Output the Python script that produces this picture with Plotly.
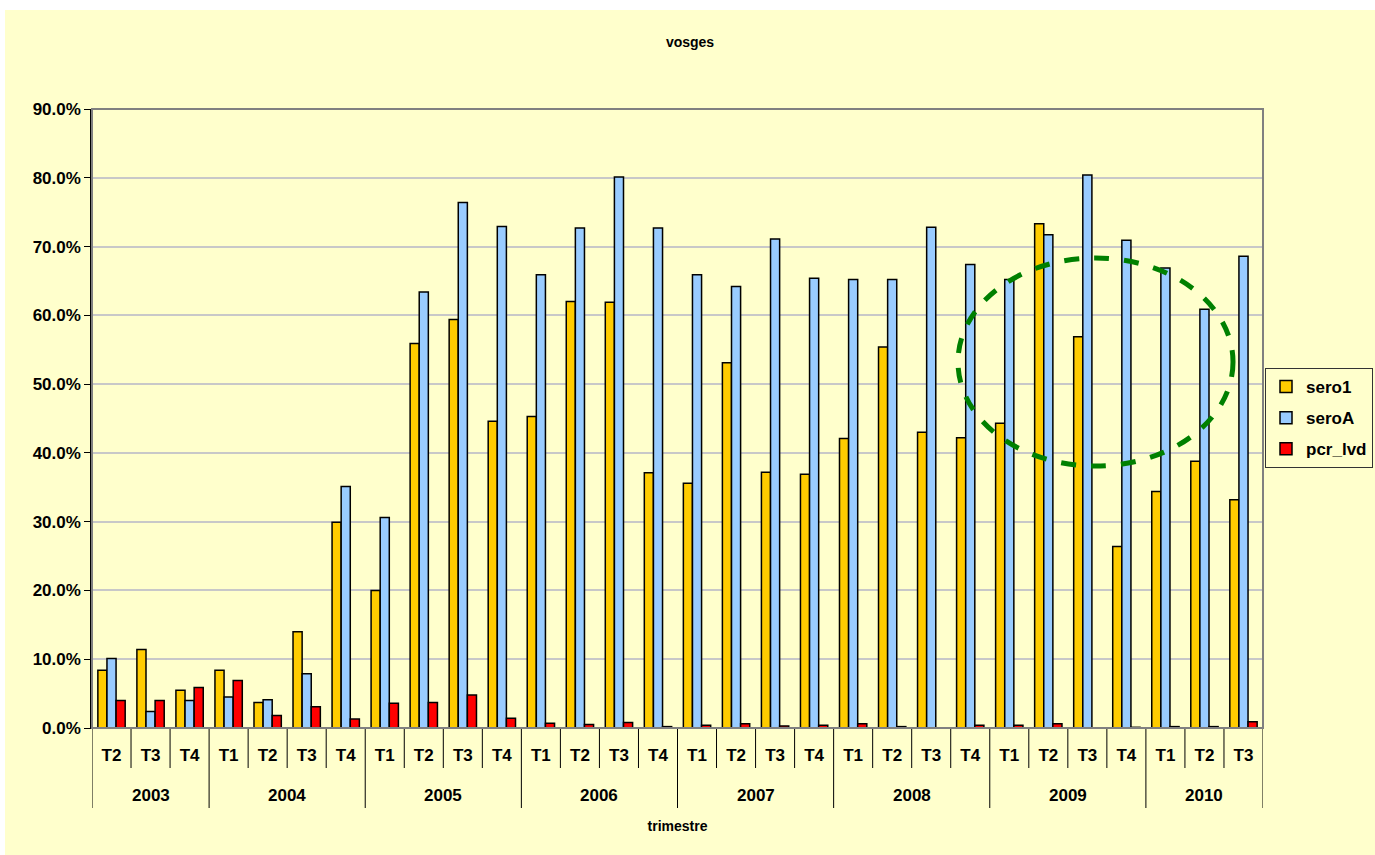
import plotly.graph_objects as go

years = ["2003"] * 3 + ["2004"] * 4 + ["2005"] * 4 + ["2006"] * 4 + ["2007"] * 4 + ["2008"] * 4 + ["2009"] * 4 + ["2010"] * 3
quarters = ["T2", "T3", "T4"] + ["T1", "T2", "T3", "T4"] * 6 + ["T1", "T2", "T3"]

sero1 = [8.4, 11.4, 5.5, 8.4, 3.7, 14.0, 29.9, 20.0, 55.9, 59.4, 44.6, 45.3, 62.0, 61.9, 37.1,
         35.6, 53.1, 37.2, 36.9, 42.1, 55.4, 43.0, 42.2, 44.3, 73.3, 56.9, 26.4, 34.4, 38.8, 33.2]
seroA = [10.1, 2.4, 4.0, 4.5, 4.1, 7.9, 35.1, 30.6, 63.4, 76.4, 72.9, 65.9, 72.7, 80.1, 72.7,
         65.9, 64.2, 71.1, 65.4, 65.2, 65.2, 72.8, 67.4, 65.2, 71.7, 80.4, 70.9, 66.9, 60.9, 68.6]
pcr_lvd = [4.0, 4.0, 5.9, 6.9, 1.8, 3.1, 1.3, 3.6, 3.7, 4.8, 1.4, 0.7, 0.5, 0.8, 0.2,
           0.4, 0.6, 0.3, 0.4, 0.6, 0.2, 0.0, 0.4, 0.4, 0.6, 0.0, 0.1, 0.2, 0.2, 0.9]

series = [("sero1", sero1, "#FFCC00"), ("seroA", seroA, "#99CCFF"), ("pcr_lvd", pcr_lvd, "#FF0000")]

FONT = "Liberation Sans, Arial, sans-serif"
BG = "#FFFFCC"
W, H = 1375, 855
L, T = 92, 109
R = W - 1263
B = H - 728
pw, ph = W - L - R, H - T - B

def px(x):  # screen x -> paper x
    return (x - L) / pw

def py(y):  # screen y -> paper y
    return (H - B - y) / ph

idx = list(range(len(quarters)))

fig = go.Figure()
for name, vals, col in series:
    fig.add_trace(go.Bar(
        x=idx, y=[v / 100 for v in vals], name=name, legendgroup=name,
        marker=dict(color=col, line=dict(color="black", width=1.5)),
    ))

fig.update_layout(
    width=W, height=H,
    margin=dict(l=L, r=R, t=T, b=B, pad=0, autoexpand=False),
    paper_bgcolor=BG, plot_bgcolor=BG,
    barmode="group", bargap=0.3, bargroupgap=0,
    font=dict(family=FONT, size=16, color="black", weight="bold"),
    title=dict(text="vosges", xref="container", x=690 / W, xanchor="center",
               yref="container", y=1 - 42 / H, yanchor="middle",
               font=dict(family=FONT, size=14, color="black", weight="bold")),
    xaxis=dict(
        range=[-0.5, len(idx) - 0.5], tickmode="array", tickvals=idx, ticktext=quarters,
        showgrid=False, zeroline=False, showline=True, linecolor="black", linewidth=1,
        ticks="", ticklabelstandoff=12,
        tickfont=dict(family=FONT, size=17, color="black", weight="bold"),
        title=dict(text="trimestre", font=dict(family=FONT, size=14, color="black", weight="bold"),
                   standoff=56),
    ),
    yaxis=dict(
        range=[0, 0.9], dtick=0.1, tickformat=".1%",
        showgrid=True, gridcolor="#C8C8C8", gridwidth=1.5,
        showline=True, linecolor="black", linewidth=1.5,
        ticks="outside", ticklen=6, tickcolor="black",
        tickfont=dict(family=FONT, size=17, color="black", weight="bold"),
        zeroline=False,
    ),
    legend=dict(
        x=px(1265), y=py(368), xanchor="left", yanchor="top",
        bgcolor=BG, bordercolor="#333333", borderwidth=1,
        font=dict(family=FONT, size=17, color="black", weight="bold"),
        tracegroupgap=6, traceorder="grouped",
    ),
    showlegend=True,
)

# year labels and category dividers
year_order = []
for y in years:
    if y not in year_order:
        year_order.append(y)
for yr in year_order:
    pos = [i for i, v in enumerate(years) if v == yr]
    fig.add_annotation(x=sum(pos) / len(pos), xref="x", y=py(795), yref="paper",
                       text=yr, showarrow=False, yanchor="middle",
                       font=dict(family=FONT, size=17, color="black", weight="bold"))
for i in range(len(idx) + 1):
    is_year = i == 0 or i == len(idx) or years[i] != years[i - 1]
    fig.add_shape(type="line", xref="x", yref="paper", x0=i - 0.5, x1=i - 0.5,
                  y0=0, y1=py(808 if is_year else 768), line=dict(color="black", width=1))

# plot area border
fig.add_shape(type="rect", xref="paper", yref="paper", x0=0, x1=1, y0=0, y1=1,
              line=dict(color="#808080", width=2), fillcolor="rgba(0,0,0,0)", layer="above")
# white strips above and left of the chart area
fig.add_shape(type="rect", xref="paper", yref="paper", x0=px(-5), x1=px(W + 5), y0=py(10), y1=py(-5),
              line=dict(width=0), fillcolor="white", layer="below")
fig.add_shape(type="rect", xref="paper", yref="paper", x0=px(-5), x1=px(5), y0=py(H + 5), y1=py(-5),
              line=dict(width=0), fillcolor="white", layer="below")
# green dashed ellipse highlight
fig.add_shape(type="circle", xref="paper", yref="paper", x0=px(958), x1=px(1233), y0=py(466), y1=py(258),
              line=dict(color="#008000", width=5, dash="dash"), fillcolor="rgba(0,0,0,0)", layer="above")

fig.write_html(
    "out.html",
    config={"displayModeBar": False},
    post_script="document.body.style.margin='0px';document.documentElement.style.overflow='hidden';",
)
